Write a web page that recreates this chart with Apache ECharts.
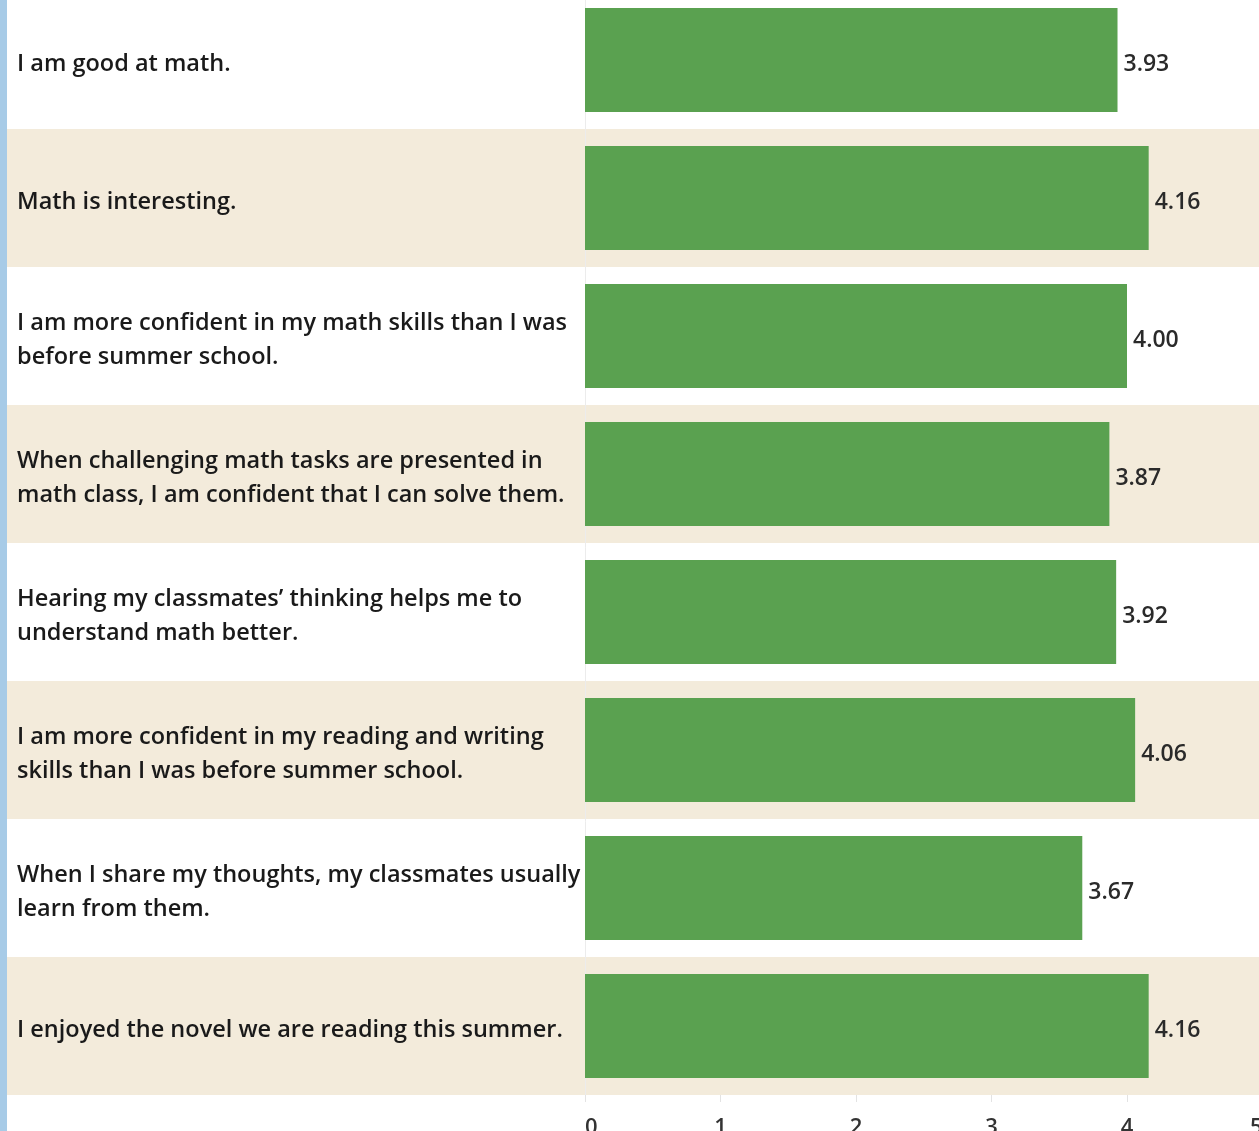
<!DOCTYPE html>
<html>
<head>
    <meta charset="utf-8">
    <title>Survey averages</title>
    <script src="https://cdn.jsdelivr.net/npm/echarts@6/dist/echarts.min.js"></script>
    <style>
        html, body { margin: 0; padding: 0; background: #fff; }
        #main { width: 1259px; height: 1131px; }
    </style>
</head>
<body>
<div id="main"></div>
<script type="text/javascript">
    // statements, top to bottom (line breaks as in the picture)
    var statements = [
        'I am good at math.',
        'Math is interesting.',
        'I am more confident in my math skills than I was\nbefore summer school.',
        'When challenging math tasks are presented in\nmath class, I am confident that I can solve them.',
        'Hearing my classmates\u2019 thinking helps me to\nunderstand math better.',
        'I am more confident in my reading and writing\nskills than I was before summer school.',
        'When I share my thoughts, my classmates usually\nlearn from them.',
        'I enjoyed the novel we are reading this summer.'
    ];
    // average rating
    var averages = [3.93, 4.16, 4.00, 3.87, 3.92, 4.06, 3.67, 4.16];
    var axisTicks = [0, 1, 2, 3, 4, 5];

    var myChart = echarts.init(document.getElementById('main'));
    var font = 'Open Sans';

    var option = {
        animation: false,
        backgroundColor: '#ffffff',
        graphic: [
            { type: 'rect', left: 0, top: 0, shape: { width: 7, height: 1131 }, style: { fill: '#a7cbe7' } }
        ],
        grid: [
            // full-width grid for the row bands
            { left: 7, width: 1252, top: -9, height: 1104, outerBoundsMode: 'none' },
            // bar grid
            { left: 585, width: 677.5, top: -9, height: 1104, outerBoundsMode: 'none' },
            // statement labels (sit a little below the row centre)
            { left: 7, width: 1252, top: -5, height: 1104, outerBoundsMode: 'none' }
        ],
        xAxis: [
            { gridIndex: 0, type: 'value', show: false, min: 0, max: 5 },
            {
                gridIndex: 1,
                type: 'value',
                min: axisTicks[0],
                max: axisTicks[axisTicks.length - 1],
                interval: 1,
                axisLine: { show: false },
                axisTick: { show: true, length: 7, lineStyle: { color: '#e3e3e3' } },
                splitLine: { show: false },
                axisLabel: {
                    color: '#333', fontFamily: font, fontWeight: 600, fontSize: 22, margin: 22,
                    alignMinLabel: 'left', alignMaxLabel: 'right'
                }
            },
            { gridIndex: 2, type: 'value', show: false, min: 0, max: 5 }
        ],
        yAxis: [
            {
                gridIndex: 0,
                type: 'category',
                inverse: true,
                data: statements,
                axisLine: { show: false },
                axisTick: { show: false },
                axisLabel: { show: false },
                splitArea: { show: true, areaStyle: { color: ['#ffffff', '#f3ebdb'] } }
            },
            {
                gridIndex: 1,
                type: 'category',
                inverse: true,
                data: statements,
                axisLine: { show: true, lineStyle: { color: '#ececec', width: 1 } },
                axisTick: { show: false },
                axisLabel: { show: false }
            },
            {
                gridIndex: 2,
                type: 'category',
                inverse: true,
                data: statements,
                axisLine: { show: false },
                axisTick: { show: false },
                axisLabel: {
                    inside: true,
                    margin: 10,
                    align: 'left',
                    color: '#1a1a1a',
                    fontFamily: font,
                    fontWeight: 600,
                    fontSize: 23.5,
                    lineHeight: 34
                }
            }
        ],
        series: [
            {
                type: 'bar',
                xAxisIndex: 1,
                yAxisIndex: 1,
                data: averages,
                barWidth: 104,
                itemStyle: { color: '#5aa150' },
                label: {
                    show: true,
                    position: 'right',
                    distance: 6,
                    offset: [0, 4],
                    color: '#2a2a2a',
                    fontFamily: font,
                    fontWeight: 600,
                    fontSize: 23,
                    formatter: function (p) { return p.value.toFixed(2); }
                }
            }
        ]
    };

    myChart.setOption(option);
</script>
</body>
</html>
